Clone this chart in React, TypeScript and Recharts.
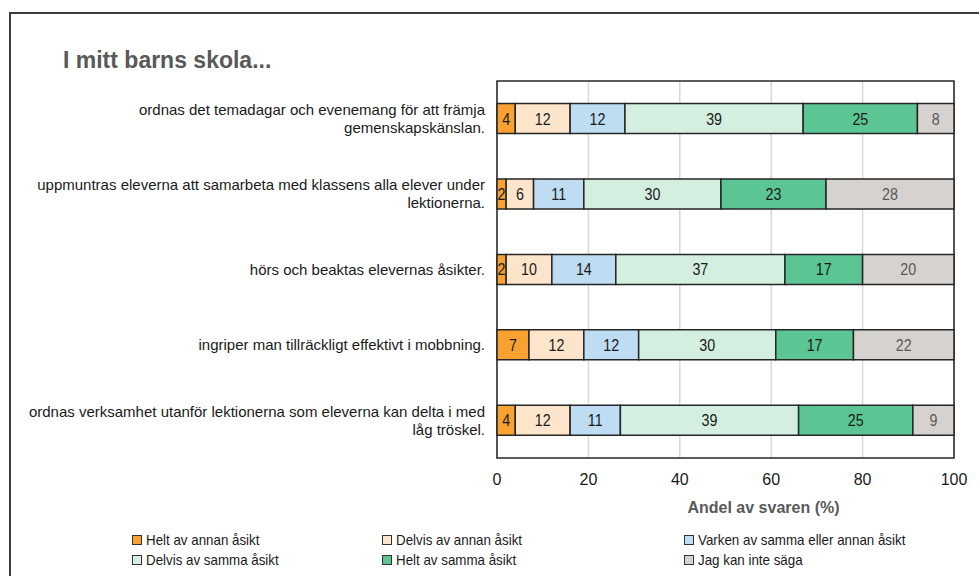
import React from "react";
import {
  BarChart,
  Bar,
  XAxis,
  YAxis,
  CartesianGrid,
  LabelList,
  Label,
  ReferenceArea,
} from "recharts";

// questions, top to bottom
const categories = [
  "ordnas det temadagar och evenemang för att främja gemenskapskänslan.",
  "uppmuntras eleverna att samarbeta med klassens alla elever under lektionerna.",
  "hörs och beaktas elevernas åsikter.",
  "ingriper man tillräckligt effektivt i mobbning.",
  "ordnas verksamhet utanför lektionerna som eleverna kan delta i med låg tröskel.",
];

const seriesNames = [
  "Helt av annan åsikt",
  "Delvis av annan åsikt",
  "Varken av samma eller annan åsikt",
  "Delvis av samma åsikt",
  "Helt av samma åsikt",
  "Jag kan inte säga",
];

const heltAnnan = [4, 2, 2, 7, 4];
const delvisAnnan = [12, 6, 10, 12, 12];
const varken = [12, 11, 14, 12, 11];
const delvisSamma = [39, 30, 37, 30, 39];
const heltSamma = [25, 23, 17, 17, 25];
const kanInte = [8, 28, 20, 22, 9];

const xTicks = [0, 20, 40, 60, 80, 100];

const COLORS = ["#F9A231", "#FDE5CB", "#BFDDF2", "#D4EEE0", "#5CC594", "#D6D2CF"];
const LABEL_COLORS = ["#1a1a1a", "#1a1a1a", "#1a1a1a", "#1a1a1a", "#1a1a1a", "#595959"];

const seriesValues = [heltAnnan, delvisAnnan, varken, delvisSamma, heltSamma, kanInte];

const data = categories.map((name, i) => {
  const row: any = { name };
  seriesValues.forEach((vals, s) => {
    row[`s${s}`] = vals[i];
  });
  return row;
});

const FONT = '"Liberation Sans", Arial, sans-serif';

function wrapLabel(text: string, maxChars: number) {
  const words = text.split(" ");
  const lines: string[] = [];
  let cur = "";
  words.forEach((w) => {
    const next = cur ? cur + " " + w : w;
    if (next.length > maxChars && cur) {
      lines.push(cur);
      cur = w;
    } else {
      cur = next;
    }
  });
  if (cur) lines.push(cur);
  return lines;
}

const CategoryTick = (props: any) => {
  const { x, y, payload } = props;
  const lines = wrapLabel(payload.value, 66);
  const lh = 18;
  const start = y - ((lines.length - 1) * lh) / 2;
  return (
    <text x={x} y={start} textAnchor="end" fontSize={15} fill="#1a1a1a" fontFamily={FONT}>
      {lines.map((l, i) => (
        <tspan key={i} x={x} y={start + i * lh} dy="0.35em">
          {l}
        </tspan>
      ))}
    </text>
  );
};

// condensed value label, centred in its segment
const makeValueLabel = (color: string) => (props: any) => {
  const { x, y, width, height, value } = props;
  const cx = Number(x) + Number(width) / 2;
  const cy = Number(y) + Number(height) / 2;
  return (
    <text
      transform={`translate(${cx},${cy}) scale(0.84,1)`}
      textAnchor="middle"
      dy="0.35em"
      fontSize={17}
      fill={color}
      fontFamily={FONT}
    >
      {value}
    </text>
  );
};

const AxisTitle = (props: any) => {
  const vb = props.viewBox || {};
  return (
    <text
      x={vb.x + vb.width / 2 + 38}
      y={vb.y + 49}
      dy="0.35em"
      textAnchor="middle"
      fontSize={16}
      fontWeight="bold"
      fill="#595959"
      fontFamily={FONT}
    >
      Andel av svaren (%)
    </text>
  );
};

// legend: two rows of three columns
const legendCols = [132, 382, 684];

export default function App() {
  return (
    <div
      style={{
        position: "absolute",
        left: 0,
        top: 0,
        width: 979,
        height: 576,
        overflow: "hidden",
        background: "#fff",
        fontFamily: FONT,
      }}
    >
      <div
        style={{
          position: "absolute",
          left: 9,
          top: 12,
          width: 1000,
          height: 600,
          border: "2px solid #3d3d3d",
        }}
      />
      <div
        style={{
          position: "absolute",
          left: 63,
          top: 45,
          fontSize: 23,
          fontWeight: "bold",
          color: "#595959",
          lineHeight: "30px",
        }}
      >
        I mitt barns skola...
      </div>
      <div style={{ position: "absolute", left: 0, top: 0 }}>
        <BarChart
          width={979}
          height={576}
          data={data}
          layout="vertical"
          margin={{ top: 81, right: 25, left: 0, bottom: 58 }}
          barCategoryGap="30%"
        >
          <CartesianGrid horizontal={false} stroke="#d9d9d9" strokeWidth={1.5} />
          <XAxis
            type="number"
            domain={[0, 100]}
            ticks={xTicks}
            tickLine={false}
            axisLine={false}
            tickSize={0}
            tickMargin={16}
            height={60}
            tick={{ fill: "#1a1a1a", fontSize: 16, fontFamily: FONT }}
          >
            <Label content={AxisTitle} />
          </XAxis>
          <YAxis
            type="category"
            dataKey="name"
            width={497}
            tickLine={false}
            axisLine={false}
            tickSize={0}
            tickMargin={12}
            interval={0}
            tick={<CategoryTick />}
          />
          {seriesNames.map((n, s) => (
            <Bar
              key={n}
              name={n}
              dataKey={`s${s}`}
              stackId="a"
              fill={COLORS[s]}
              stroke="#262626"
              strokeWidth={1.5}
              isAnimationActive={false}
            >
              <LabelList dataKey={`s${s}`} content={makeValueLabel(LABEL_COLORS[s])} />
            </Bar>
          ))}
          <ReferenceArea x1={0} x2={100} fill="none" stroke="#262626" strokeWidth={1.5} ifOverflow="visible" />
        </BarChart>
      </div>
      {seriesNames.map((n, s) => {
        const col = s % 3;
        const row = Math.floor(s / 3);
        return (
          <div
            key={n}
            style={{
              position: "absolute",
              left: legendCols[col],
              top: 530 + row * 20,
              height: 20,
              display: "flex",
              alignItems: "center",
              whiteSpace: "nowrap",
            }}
          >
            <span
              style={{
                display: "inline-block",
                width: 8,
                height: 8,
                background: COLORS[s],
                border: "1px solid #333",
                marginRight: 4,
              }}
            />
            <span
              style={{
                display: "inline-block",
                fontSize: 14.5,
                color: "#1a1a1a",
                transform: "scaleX(0.92)",
                transformOrigin: "left center",
              }}
            >
              {n}
            </span>
          </div>
        );
      })}
    </div>
  );
}
